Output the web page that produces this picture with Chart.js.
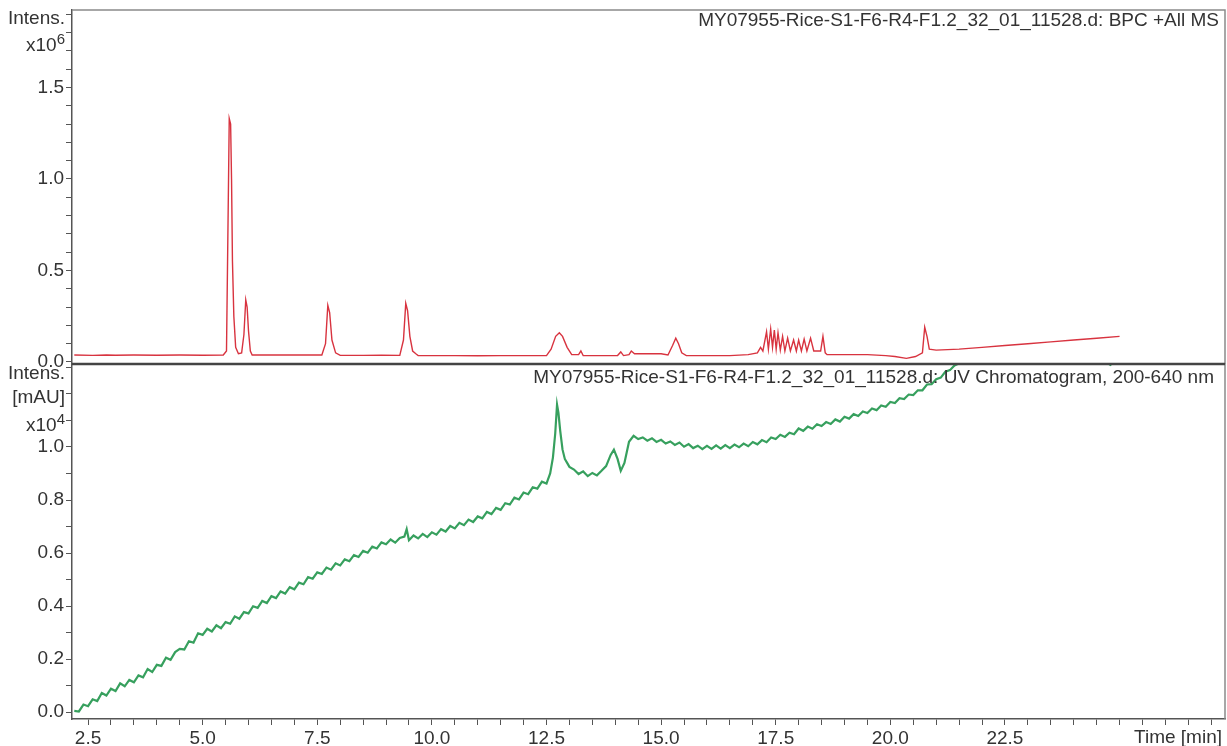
<!DOCTYPE html>
<html>
<head>
<meta charset="utf-8">
<script src="https://cdn.jsdelivr.net/npm/chart.js@4"></script>
<style>
  body { margin: 0; background: #fff; font-family: "Liberation Sans", Arial, sans-serif; color: #333; }
  #wrap { position: relative; width: 1227px; height: 746px; overflow: hidden; }
  canvas { position: absolute; left: 0; }
  .lbl { position: absolute; font-size: 19px; line-height: 19px; white-space: nowrap; }
  .r { text-align: right; }
  sup { font-size: 15px; vertical-align: 7px; line-height: 0; }
</style>
</head>
<body>
<div id="wrap">
  <canvas id="bpcChart" width="1227" height="376" style="top:0"></canvas>
  <canvas id="uvChart" width="1227" height="384" style="top:362px"></canvas>
  <div class="lbl r" style="right:1162px; top:8px">Intens.</div>
  <div class="lbl r" style="right:1162px; top:35px">x10<sup>6</sup></div>
  <div class="lbl r" style="right:1162px; top:363px">Intens.</div>
  <div class="lbl r" style="right:1162px; top:387px">[mAU]</div>
  <div class="lbl r" style="right:1162px; top:415px">x10<sup>4</sup></div>
  <div class="lbl r" style="right:8px; top:10px">MY07955-Rice-S1-F6-R4-F1.2_32_01_11528.d: BPC +All MS</div>
  <div class="lbl r" style="right:13px; top:367px">MY07955-Rice-S1-F6-R4-F1.2_32_01_11528.d: UV Chromatogram, 200-640 nm</div>
  <div class="lbl r" style="right:5px; top:727px">Time [min]</div>
</div>
<script>
// labelled ticks
const timeTickLabels = [2.5, 5.0, 7.5, 10.0, 12.5, 15.0, 17.5, 20.0, 22.5];
const bpcTickLabels = [0.0, 0.5, 1.0, 1.5];
const uvTickLabels = [0.0, 0.2, 0.4, 0.6, 0.8, 1.0];

// BPC +All MS: time [min], intensity x10^6
const bpcTime = [2.2, 2.6, 2.9, 3.1, 3.5, 4.0, 4.5, 5.0, 5.45,
  5.52, 5.56, 5.58, 5.61, 5.63, 5.65, 5.68, 5.72, 5.78, 5.85, 5.9, 5.94, 5.97, 6.0, 6.04, 6.08,
  7.0, 7.6, 7.68, 7.73, 7.77, 7.82, 7.9, 8.0, 8.5, 8.9, 9.3, 9.38, 9.43, 9.47, 9.52, 9.58, 9.65, 9.7,
  10.5, 11.0, 11.5, 12.0, 12.5, 12.6, 12.7, 12.78, 12.85, 12.95, 13.05, 13.2, 13.25, 13.3,
  14.05, 14.12, 14.18, 14.3, 14.35, 14.42, 15.0, 15.15, 15.25, 15.32, 15.38, 15.45, 15.55,
  16.5, 16.9, 17.1, 17.17, 17.22, 17.3, 17.34, 17.39, 17.43, 17.47, 17.51, 17.55, 17.6, 17.65, 17.7,
  17.76, 17.82, 17.89, 17.95, 18.0, 18.06, 18.12, 18.18, 18.26, 18.33, 18.48, 18.53, 18.58, 18.62,
  19.0, 19.5, 19.9, 20.1, 20.35, 20.55, 20.7, 20.75, 20.8, 20.85, 21.0, 21.5, 22.0, 22.5, 23.0,
  23.5, 24.0, 24.5, 25.0];
const bpcValue = [0.038, 0.036, 0.038, 0.037, 0.038, 0.037, 0.038, 0.037, 0.038,
  0.06, 0.9, 1.33, 1.30, 1.0, 0.55, 0.25, 0.08, 0.045, 0.05, 0.15, 0.34, 0.30, 0.17, 0.06, 0.038,
  0.038, 0.038, 0.10, 0.31, 0.27, 0.12, 0.05, 0.036, 0.036, 0.037, 0.036, 0.12, 0.32, 0.28, 0.14, 0.06, 0.045, 0.035,
  0.035, 0.034, 0.035, 0.035, 0.035, 0.07, 0.14, 0.16, 0.14, 0.08, 0.04, 0.04, 0.06, 0.035,
  0.035, 0.055, 0.035, 0.04, 0.06, 0.045, 0.045, 0.038, 0.09, 0.13, 0.10, 0.05, 0.035,
  0.035, 0.04, 0.05, 0.08, 0.06, 0.165, 0.07, 0.18, 0.08, 0.175, 0.07, 0.16, 0.065, 0.14, 0.06,
  0.13, 0.06, 0.12, 0.06, 0.12, 0.06, 0.125, 0.06, 0.13, 0.06, 0.06, 0.14, 0.05, 0.04,
  0.04, 0.04, 0.035, 0.03, 0.02, 0.03, 0.05, 0.19, 0.14, 0.07, 0.065, 0.07, 0.08, 0.09, 0.10,
  0.11, 0.12, 0.13, 0.14];

// UV chromatogram 200-640 nm: time [min], intensity x10^4 mAU
const uvTime = [
  2.2, 2.3, 2.4, 2.5, 2.6, 2.7, 2.8, 2.9, 3.0, 3.1, 3.2, 3.3, 3.4, 3.5, 3.6, 3.7, 3.8, 3.9,
  4.0, 4.1, 4.2, 4.3, 4.4, 4.5, 4.6, 4.7, 4.8, 4.9, 5.0, 5.1, 5.2, 5.3, 5.4, 5.5, 5.6, 5.7, 5.8, 5.9,
  6.0, 6.1, 6.2, 6.3, 6.4, 6.5, 6.6, 6.7, 6.8, 6.9, 7.0, 7.1, 7.2, 7.3, 7.4, 7.5, 7.6, 7.7, 7.8, 7.9,
  8.0, 8.1, 8.2, 8.3, 8.4, 8.5, 8.6, 8.7, 8.8, 8.9, 9.0, 9.1, 9.2, 9.3, 9.4, 9.45, 9.5, 9.6, 9.7, 9.8, 9.9,
  10.0, 10.1, 10.2, 10.3, 10.4, 10.5, 10.6, 10.7, 10.8, 10.9, 11.0, 11.1, 11.2, 11.3, 11.4, 11.5, 11.6,
  11.7, 11.8, 11.9, 12.0, 12.1, 12.2, 12.3, 12.4, 12.5,
  12.58, 12.64, 12.69, 12.73, 12.76, 12.8, 12.85, 12.9, 12.95, 13.0, 13.1, 13.2, 13.3, 13.4, 13.5,
  13.6, 13.7, 13.8, 13.9, 13.97, 14.05, 14.12, 14.2, 14.3, 14.4, 14.5,
  14.6, 14.7, 14.8, 14.9, 15.0, 15.1, 15.2, 15.3, 15.4, 15.5, 15.6, 15.7, 15.8, 15.9, 16.0, 16.1,
  16.2, 16.3, 16.4, 16.5, 16.6, 16.7, 16.8, 16.9, 17.0, 17.1, 17.2, 17.3, 17.4, 17.5, 17.6, 17.7,
  17.8, 17.9, 18.0, 18.1, 18.2, 18.3, 18.4, 18.5, 18.6, 18.7, 18.8, 18.9, 19.0, 19.1, 19.2, 19.3,
  19.4, 19.5, 19.6, 19.7, 19.8, 19.9, 20.0, 20.1, 20.2, 20.3, 20.4, 20.5, 20.6, 20.7, 20.8, 20.9,
  21.0, 21.1, 21.2, 21.3, 21.4, 21.5, 21.6, 21.7, 21.8, 21.9, 22.0, 22.2, 22.4, 22.6, 22.8, 23.0,
  23.2, 23.4, 23.6, 23.8, 24.0, 24.2, 24.4, 24.6, 24.8, 24.9, 25.0];
const uvValue = [
  0.004, 0.002, 0.028, 0.022, 0.048, 0.041, 0.072, 0.062, 0.088, 0.079, 0.108, 0.097, 0.121, 0.112, 0.138, 0.131, 0.162, 0.151,
  0.178, 0.174, 0.205, 0.197, 0.226, 0.238, 0.236, 0.267, 0.262, 0.297, 0.291, 0.314, 0.304, 0.327, 0.316, 0.339, 0.333, 0.361, 0.352, 0.377,
  0.372, 0.399, 0.393, 0.419, 0.411, 0.437, 0.430, 0.455, 0.447, 0.471, 0.463, 0.488, 0.482, 0.509, 0.503, 0.527, 0.521, 0.545, 0.537, 0.561,
  0.553, 0.576, 0.569, 0.592, 0.585, 0.608, 0.601, 0.624, 0.617, 0.640, 0.633, 0.651, 0.639, 0.657, 0.662, 0.690, 0.648, 0.666, 0.655, 0.672, 0.660,
  0.678, 0.669, 0.690, 0.681, 0.702, 0.693, 0.714, 0.705, 0.726, 0.717, 0.738, 0.731, 0.755, 0.747, 0.770, 0.763, 0.788,
  0.783, 0.809, 0.802, 0.828, 0.822, 0.848, 0.843, 0.869, 0.862,
  0.90, 0.96, 1.05, 1.16, 1.13, 1.06, 0.99, 0.955, 0.94, 0.925, 0.915, 0.898, 0.908, 0.89, 0.902,
  0.893, 0.91, 0.928, 0.97, 0.99, 0.955, 0.91, 0.94, 1.02, 1.042, 1.03,
  1.036, 1.024, 1.033, 1.019, 1.027, 1.013, 1.021, 1.008, 1.017, 1.001, 1.011, 0.996, 1.005, 0.992, 1.004, 0.993,
  1.006, 0.994, 1.007, 0.996, 1.009, 0.999, 1.013, 1.003, 1.019, 1.010, 1.026, 1.018, 1.036, 1.030, 1.046, 1.038,
  1.054, 1.048, 1.070, 1.061, 1.077, 1.069, 1.086, 1.079, 1.094, 1.087, 1.104, 1.096, 1.114, 1.107, 1.124, 1.117,
  1.134, 1.128, 1.145, 1.139, 1.157, 1.152, 1.170, 1.166, 1.184, 1.181, 1.198, 1.196, 1.214, 1.214, 1.236, 1.237,
  1.256, 1.262, 1.284, 1.290, 1.308, 1.316, 1.330, 1.335, 1.348, 1.342, 1.355, 1.338, 1.352, 1.340, 1.356, 1.345,
  1.360, 1.348, 1.362, 1.350, 1.360, 1.345, 1.355, 1.332, 1.310, 1.325, 1.315];

const bpcPoints = bpcTime.map((t, i) => ({ x: t, y: bpcValue[i] }));
const uvPoints = uvTime.map((t, i) => ({ x: t, y: uvValue[i] }));

const tickFont = { family: 'Liberation Sans', size: 19 };
const axisGrey = '#555';

const isLabel = (v, list) => list.some(l => Math.abs(l - v) < 1e-6);

// grey frame round the plot area, dark divider on top of the lower panel
const framePlugin = {
  id: 'frame',
  afterDraw(chart, args, opts) {
    const a = chart.chartArea, c = chart.ctx;
    c.save();
    c.strokeStyle = '#8a8a8a';
    c.lineWidth = 1.5;
    c.beginPath();
    c.moveTo(a.left, a.top); c.lineTo(a.right, a.top); c.lineTo(a.right, a.bottom);
    c.stroke();
    if (opts.topDark) {
      c.strokeStyle = '#444';
      c.lineWidth = 2.5;
      c.beginPath(); c.moveTo(a.left, a.top); c.lineTo(a.right, a.top); c.stroke();
    }
    c.restore();
  }
};

// small tick every `step` between first and the scale max
function minorTicks(scale, first, step) {
  const out = [];
  for (let k = 0; first + k * step <= scale.max + 1e-9; k++) {
    out.push({ value: Math.round((first + k * step) * 1000) / 1000 });
  }
  scale.ticks = out;
}

function xScale(show) {
  return {
    type: 'linear', min: 2.15, max: 27.3, display: show,
    border: { display: true, color: axisGrey, width: 1.5 },
    grid: { drawOnChartArea: false, drawTicks: true, tickLength: 6, color: axisGrey },
    afterBuildTicks: s => minorTicks(s, 2.5, 0.5),
    ticks: {
      autoSkip: false, maxRotation: 0, padding: 2, color: '#333', font: tickFont,
      callback: v => isLabel(v, timeTickLabels) ? v.toFixed(1) : ''
    },
    afterFit: s => { if (show) s.height = 27; s.paddingLeft = 0; s.paddingRight = 0; }
  };
}

function yScale(min, max, labels) {
  return {
    min: min, max: max,
    border: { display: true, color: axisGrey, width: 1.5 },
    grid: { drawOnChartArea: false, drawTicks: true, tickLength: 6, color: axisGrey },
    afterBuildTicks: s => minorTicks(s, 0, 0.1),
    ticks: {
      autoSkip: false, padding: 2, color: '#333', font: tickFont,
      callback: v => isLabel(v, labels) ? v.toFixed(1) : ''
    },
    afterFit: s => { s.width = 72; s.paddingTop = 0; s.paddingBottom = 0; }
  };
}

new Chart(document.getElementById('bpcChart').getContext('2d'), {
  type: 'line',
  data: { datasets: [{ data: bpcPoints, borderColor: '#d8333f', borderWidth: 1.4, pointRadius: 0, tension: 0 }] },
  options: {
    responsive: false, animation: false,
    layout: { padding: { top: 10, right: 2, left: 0, bottom: 12 } },
    plugins: { legend: { display: false }, tooltip: { enabled: false }, frame: {} },
    scales: { x: xScale(false), y: yScale(-0.011, 1.923, bpcTickLabels) }
  },
  plugins: [framePlugin]
});

new Chart(document.getElementById('uvChart').getContext('2d'), {
  type: 'line',
  data: { datasets: [{ data: uvPoints, borderColor: '#37a05e', borderWidth: 2.2, pointRadius: 0, tension: 0 }] },
  options: {
    responsive: false, animation: false,
    layout: { padding: { top: 2, right: 2, left: 0, bottom: 0 } },
    plugins: { legend: { display: false }, tooltip: { enabled: false }, frame: { topDark: true } },
    scales: { x: xScale(true), y: yScale(-0.0264, 1.3132, uvTickLabels) }
  },
  plugins: [framePlugin]
});
</script>
</body>
</html>
